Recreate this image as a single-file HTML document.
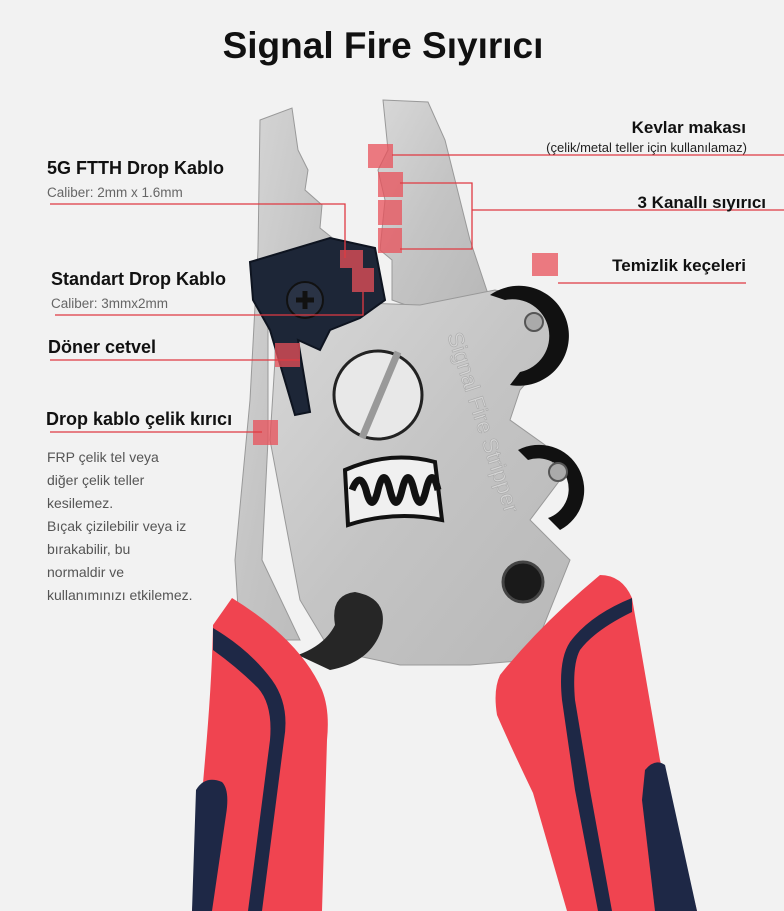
<!DOCTYPE html>
<html><head><meta charset="utf-8"><style>
html,body{margin:0;padding:0;background:#f2f2f2;}
svg{display:block}
text{font-family:"Liberation Sans",sans-serif}
</style></head><body>
<svg width="784" height="911" viewBox="0 0 784 911" xmlns="http://www.w3.org/2000/svg">
<defs>
<linearGradient id="metal" x1="0" y1="0" x2="1" y2="1">
<stop offset="0" stop-color="#d8d8d8"/><stop offset="0.5" stop-color="#c4c4c4"/><stop offset="1" stop-color="#b8b8b8"/>
</linearGradient>
</defs>
<rect width="784" height="911" fill="#f2f2f2"/>
<text x="383" y="58" text-anchor="middle" font-size="37" font-weight="bold" fill="#111">Signal Fire Sıyırıcı</text>

<!-- left jaw -->
<path d="M260,120 L292,108 L298,150 L308,170 L305,190 L322,205 L320,228 L335,240 L340,262 L305,270 L265,270 L268,330 L268,440 L262,560 L300,640 L240,640 L235,560 L250,400 L258,250 Z" fill="url(#metal)" stroke="#999" stroke-width="1"/>
<!-- right jaw -->
<path d="M383,100 L428,102 L445,140 L470,240 L490,300 L420,310 L392,300 L392,260 L380,250 L385,200 L378,170 L388,150 Z" fill="url(#metal)" stroke="#999" stroke-width="1"/>
<!-- body -->
<path d="M275,300 L420,305 L495,290 L540,300 L560,345 L520,390 L510,420 L545,445 L560,480 L530,520 L570,560 L530,660 L470,665 L400,665 L330,650 L300,600 L285,520 L270,440 L275,360 Z" fill="url(#metal)" stroke="#999" stroke-width="1"/>
<!-- black rings -->
<path d="M490,295 A50,50 0 1 1 510,385 L520,372 A36,36 0 1 0 505,300 Z" fill="#111"/>
<path d="M518,450 A45,45 0 1 1 560,530 L548,518 A30,30 0 1 0 528,460 Z" fill="#111"/>
<circle cx="534" cy="322" r="9" fill="#aaa" stroke="#555" stroke-width="2"/>
<circle cx="558" cy="472" r="9" fill="#aaa" stroke="#555" stroke-width="2"/>
<circle cx="523" cy="582" r="20" fill="#1a1a1a" stroke="#444" stroke-width="3"/>
<!-- screw -->
<circle cx="378" cy="395" r="44" fill="#e8e8e8" stroke="#222" stroke-width="3"/>
<line x1="398" y1="352" x2="362" y2="438" stroke="#999" stroke-width="7"/>
<!-- spring -->
<path d="M345,470 Q390,450 435,462 L442,520 Q395,510 348,525 Z" fill="#f0f0f0" stroke="#111" stroke-width="4"/>
<path d="M352,490 q8,-20 14,0 q6,25 12,0 q6,-25 12,0 q6,25 12,0 q6,-25 12,0 q6,25 12,0 q6,-25 12,0" fill="none" stroke="#111" stroke-width="7"/>
<text x="0" y="0" font-size="22" fill="#d4d4d4" stroke="#aaa" stroke-width="0.6" transform="translate(447,335) rotate(72)">Signal Fire Stripper</text>
<!-- dial -->
<path d="M250,262 L330,238 L375,248 L385,300 L360,318 L330,330 L320,350 L298,340 L310,412 L295,415 L270,330 L253,300 Z" fill="#1d2637" stroke="#0e1420" stroke-width="2"/>
<circle cx="305" cy="300" r="18" fill="#2a3345" stroke="#111" stroke-width="2"/>
<path d="M296,300 h18 M305,291 v18" stroke="#111" stroke-width="5"/>
<!-- lever -->
<path d="M298,655 Q325,645 335,625 Q330,595 355,592 Q388,598 382,628 Q372,662 330,670 Z" fill="#262626"/>

<!-- left handle -->
<path d="M232,598 Q300,640 322,690 Q330,710 327,740 L322,911 L192,911 L205,760 Q212,680 213,625 Z" fill="#f04450"/>
<path d="M213,628 Q250,650 272,680 Q290,705 284,740 L262,911 L248,911 L270,740 Q273,705 258,688 Q238,668 213,650 Z" fill="#1e2846"/>
<path d="M192,911 L196,790 Q205,775 222,782 Q230,790 226,815 L212,911 Z" fill="#1e2846"/>
<!-- right handle -->
<path d="M600,575 Q622,575 632,598 L660,760 L697,911 L567,911 L533,793 Q510,745 497,715 Q493,690 500,675 Q540,625 600,575 Z" fill="#f04450"/>
<path d="M632,598 L632,612 Q595,630 580,650 Q572,665 575,700 L590,790 L612,911 L598,911 L575,790 L562,700 Q558,660 570,642 Q590,615 632,598 Z" fill="#1e2846"/>
<path d="M645,770 Q655,758 665,765 L697,911 L655,911 L642,800 Z" fill="#1e2846"/>

<!-- markers -->
<g fill="#e8505a" fill-opacity="0.75">
<rect x="368" y="144" width="25" height="24"/>
<rect x="378" y="172" width="25" height="25"/>
<rect x="378" y="200" width="24" height="25"/>
<rect x="378" y="228" width="24" height="25"/>
<rect x="532" y="253" width="26" height="23"/>
<rect x="340" y="250" width="23" height="18"/>
<rect x="352" y="268" width="22" height="24"/>
<rect x="275" y="343" width="25" height="24"/>
<rect x="253" y="420" width="25" height="25"/>
</g>
<g stroke="#e03a42" stroke-width="1.3" fill="none">
<path d="M392,155 H784"/>
<path d="M400,183 H472 V249 H400 M472,210 H784"/>
<path d="M558,283 H746"/>
<path d="M50,204 H345 V258"/>
<path d="M55,315 H363 V292"/>
<path d="M50,360 H300"/>
<path d="M50,432 H262"/>
</g>

<!-- labels -->
<text x="746" y="133" text-anchor="end" font-size="17" font-weight="bold" fill="#111">Kevlar makası</text>
<text x="747" y="152" text-anchor="end" font-size="13" fill="#222">(çelik/metal teller için kullanılamaz)</text>
<text x="766" y="208" text-anchor="end" font-size="17" font-weight="bold" fill="#111">3 Kanallı sıyırıcı</text>
<text x="746" y="271" text-anchor="end" font-size="17" font-weight="bold" fill="#111">Temizlik keçeleri</text>
<text x="47" y="174" font-size="18" font-weight="bold" fill="#111">5G  FTTH Drop Kablo</text>
<text x="47" y="197" font-size="13.5" fill="#666">Caliber: 2mm x 1.6mm</text>
<text x="51" y="285" font-size="18" font-weight="bold" fill="#111">Standart Drop Kablo</text>
<text x="51" y="308" font-size="13.5" fill="#666">Caliber: 3mmx2mm</text>
<text x="48" y="353" font-size="18" font-weight="bold" fill="#111">Döner cetvel</text>
<text x="46" y="425" font-size="18" font-weight="bold" fill="#111">Drop kablo çelik kırıcı</text>
<g font-size="14" fill="#555">
<text x="47" y="462">FRP çelik tel veya</text>
<text x="47" y="485">diğer çelik teller</text>
<text x="47" y="508">kesilemez.</text>
<text x="47" y="531">Bıçak çizilebilir veya iz</text>
<text x="47" y="554">bırakabilir, bu</text>
<text x="47" y="577">normaldir ve</text>
<text x="47" y="600">kullanımınızı etkilemez.</text>
</g>
</svg>
</body></html>
